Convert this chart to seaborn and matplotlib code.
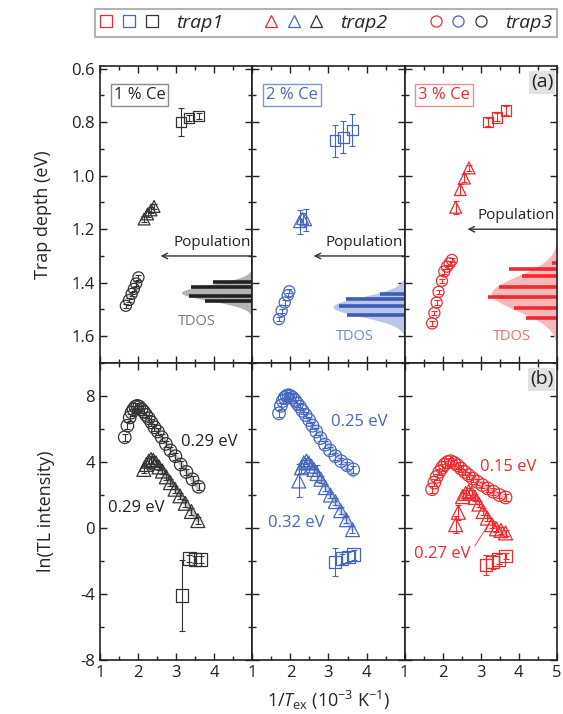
import numpy as np
import matplotlib
matplotlib.use('Agg')
import matplotlib.pyplot as plt
import seaborn as sns
from matplotlib.lines import Line2D
from matplotlib.legend_handler import HandlerTuple
from matplotlib.ticker import MultipleLocator

sns.set_theme(style='ticks')
plt.rcParams['font.family'] = ['Open Sans', 'DejaVu Sans']
plt.rcParams['mathtext.fontset'] = 'custom'
plt.rcParams['mathtext.rm'] = 'Open Sans'
plt.rcParams['mathtext.it'] = 'Open Sans:italic'

# ---- data ----
conc_labels = ['1 % Ce', '2 % Ce', '3 % Ce']
colors = ['#333333', '#4767bd', '#ee2a2e']
box_edge = ['#8a8a8a', '#7f95d2', '#f38c8c']
tdos_fill = ['#b3b3b3', '#b9c6e7', '#f7b8b8']
tdos_text = ['#7a7a7a', '#6f8acd', '#f26a6a']
tdos_bar = ['#222222', '#3d5cb8', '#ee2a2e']

# (a) trap depth vs 1/T
a_t1_x = [[3.13, 3.34, 3.59], [3.17, 3.39, 3.63], [3.19, 3.43, 3.66]]
a_t1_y = [[0.80, 0.784, 0.776], [0.869, 0.857, 0.829], [0.80, 0.782, 0.757]]
a_t1_err = [[0.053, 0.012, 0.012], [0.06, 0.06, 0.06], [0.015, 0.015, 0.018]]

a_t2_x = [[2.16, 2.25, 2.34, 2.42], [2.24, 2.32, 2.40], [2.34, 2.46, 2.57, 2.69]]
a_t2_y = [[1.162, 1.143, 1.128, 1.115], [1.172, 1.16, 1.165], [1.118, 1.052, 1.009, 0.971]]
a_t2_err = [[0.01, 0.01, 0.01, 0.01], [0.045, 0.02, 0.04], [0.025, 0.02, 0.015, 0.012]]

a_t3_x = [[1.68, 1.76, 1.83, 1.89, 1.95, 2.01],
          [1.70, 1.77, 1.85, 1.93, 1.97],
          [1.72, 1.78, 1.84, 1.89, 1.98, 2.04, 2.11, 2.18, 2.24]]
a_t3_y = [[1.486, 1.465, 1.442, 1.423, 1.403, 1.38],
          [1.536, 1.505, 1.474, 1.447, 1.432],
          [1.552, 1.513, 1.474, 1.434, 1.393, 1.358, 1.340, 1.328, 1.315]]
a_t3_err = 0.008

# TDOS gaussians + discrete levels
tdos_center = [1.437, 1.49, 1.44]
tdos_sigma = [0.03, 0.037, 0.065]
tdos_amp = [1.86, 1.88, 1.72]
tdos_bar_y = [[1.396, 1.417, 1.449, 1.470],
              [1.442, 1.461, 1.486, 1.521],
              [1.328, 1.349, 1.374, 1.415, 1.455, 1.495, 1.532]]
tdos_bar_len = [[1.03, 1.61, 1.65, 1.25],
                [0.64, 1.55, 1.72, 1.52],
                [0.12, 1.27, 0.91, 1.53, 1.82, 1.13, 0.81]]
pop_y = [1.30, 1.30, 1.20]
pop_head_x = [2.59, 2.61, 2.65]

# (b) ln(TL intensity) vs 1/T
b_t3_x = [[1.65, 1.72, 1.78, 1.83, 1.88, 1.93, 1.98, 2.03, 2.09, 2.15, 2.21, 2.28,
           2.35, 2.43, 2.52, 2.62, 2.73, 2.85, 2.98, 3.12, 3.27, 3.43, 3.59],
          [1.70, 1.75, 1.80, 1.85, 1.90, 1.95, 2.00, 2.06, 2.12, 2.18, 2.25, 2.32,
           2.40, 2.49, 2.58, 2.68, 2.79, 2.91, 3.04, 3.18, 3.33, 3.49, 3.65],
          [1.72, 1.78, 1.84, 1.91, 1.98, 2.05, 2.13, 2.21, 2.30, 2.39, 2.48, 2.58,
           2.68, 2.79, 2.91, 3.04, 3.18, 3.33, 3.49, 3.65]]
b_t3_y = [[5.5, 6.2, 6.7, 7.0, 7.2, 7.35, 7.4, 7.35, 7.2, 7.05, 6.85, 6.65,
           6.4, 6.1, 5.85, 5.5, 5.1, 4.7, 4.35, 3.85, 3.4, 2.95, 2.5],
          [6.95, 7.4, 7.7, 7.9, 8.0, 8.05, 8.0, 7.9, 7.75, 7.55, 7.35, 7.1,
           6.85, 6.55, 6.2, 5.85, 5.45, 5.05, 4.7, 4.35, 4.05, 3.8, 3.55],
          [2.35, 2.75, 3.1, 3.4, 3.65, 3.85, 4.0, 4.05, 3.95, 3.8, 3.6, 3.4,
           3.2, 3.0, 2.8, 2.6, 2.4, 2.2, 2.0, 1.85]]
b_t3_err = 0.2

b_t2_x = [[2.15, 2.22, 2.28, 2.34, 2.40, 2.47, 2.55, 2.64, 2.74, 2.85, 2.97, 3.10, 3.24, 3.40, 3.57],
          [2.22, 2.29, 2.35, 2.42, 2.48, 2.55, 2.62, 2.70, 2.80, 2.92, 3.05, 3.18, 3.32, 3.47, 3.63],
          [2.34, 2.41, 2.52, 2.60, 2.68, 2.76, 2.85, 2.95, 3.06, 3.17, 3.29, 3.41, 3.53, 3.65]]
b_t2_y = [[3.55, 3.85, 4.05, 4.15, 4.1, 3.95, 3.7, 3.45, 3.1, 2.75, 2.35, 1.95, 1.5, 1.0, 0.45],
          [2.85, 3.65, 3.95, 4.05, 3.95, 3.75, 3.55, 3.3, 2.95, 2.45, 2.0, 1.6, 1.05, 0.5, -0.1],
          [0.2, 0.95, 1.9, 2.1, 2.2, 2.1, 1.85, 1.45, 1.0, 0.6, 0.2, -0.05, -0.15, -0.3]]
b_t2_err = [[0.2, 0.2, 0.2, 0.2, 0.2, 0.2, 0.2, 0.2, 0.2, 0.2, 0.2, 0.2, 0.2, 0.2, 0.2],
            [1.0, 0.3, 0.2, 0.2, 0.2, 0.2, 0.2, 0.5, 0.2, 0.2, 0.2, 0.2, 0.2, 0.2, 0.2],
            [0.5, 0.45, 0.2, 0.2, 0.2, 0.2, 0.2, 0.2, 0.2, 0.2, 0.2, 0.2, 0.2, 0.2]]

b_t1_x = [[3.15, 3.35, 3.50, 3.64], [3.17, 3.36, 3.52, 3.66], [3.14, 3.31, 3.47, 3.65]]
b_t1_y = [[-4.1, -1.85, -1.9, -1.9], [-2.06, -1.86, -1.75, -1.61], [-2.23, -2.06, -1.9, -1.7]]
b_t1_err = [[2.15, 0.2, 0.2, 0.2], [0.87, 0.3, 0.3, 0.3], [0.6, 0.4, 0.3, 0.2]]

b_e_labels = [['0.29 eV', '0.29 eV'], ['0.25 eV', '0.32 eV'], ['0.15 eV', '0.27 eV']]

# ---- figure ----
fig = plt.figure(figsize=(5.63, 7.14), dpi=100)
gs = fig.add_gridspec(2, 3, left=0.1776, right=0.9893, top=0.9076, bottom=0.0756,
                      wspace=0, hspace=0)
axes = np.array([[fig.add_subplot(gs[r, c]) for c in range(3)] for r in range(2)])

ms_a = 7.5
ms_b = 9


def markers(ax, x, y, err, marker, color, size, mlw=0.9):
    ax.errorbar(x, y, yerr=err, fmt='none', ecolor=color, elinewidth=0.8,
                capsize=2.2, capthick=0.8, zorder=3)
    sns.scatterplot(x=x, y=y, ax=ax, marker=marker, s=size ** 2, color=color,
                    facecolors='none', edgecolor=color, linewidth=mlw, zorder=4)


tdos_txt_y = [1.545, 1.60, 1.60]
tdos_txt_x = [3.54, 3.68, 3.82]

for c in range(3):
    col = colors[c]
    ax = axes[0, c]
    # TDOS gaussian + levels
    yy = np.linspace(tdos_center[c] - 4 * tdos_sigma[c], tdos_center[c] + 4 * tdos_sigma[c], 300)
    g = tdos_amp[c] * np.exp(-0.5 * ((yy - tdos_center[c]) / tdos_sigma[c]) ** 2)
    ax.fill_betweenx(yy, 5 - g, 5, color=tdos_fill[c], lw=0, zorder=1)
    ax.hlines(tdos_bar_y[c], 5 - np.array(tdos_bar_len[c]), 5, color=tdos_bar[c], lw=2.6, zorder=2)

    markers(ax, a_t1_x[c], a_t1_y[c], a_t1_err[c], 's', col, ms_a)
    markers(ax, a_t2_x[c], a_t2_y[c], a_t2_err[c], '^', col, ms_a + 1)
    markers(ax, a_t3_x[c], a_t3_y[c], a_t3_err, 'o', col, ms_a + 0.5)

    ax.annotate('', xy=(pop_head_x[c], pop_y[c]), xytext=(5.0, pop_y[c]),
                arrowprops=dict(arrowstyle='->', color='#333333', lw=1.0,
                                shrinkA=0, shrinkB=0, mutation_scale=10))
    ax.text(4.95, pop_y[c] - 0.022, 'Population', ha='right', va='bottom',
            fontsize=11, color='#222222')
    ax.text(tdos_txt_x[c], tdos_txt_y[c], 'TDOS', ha='center', va='center',
            fontsize=10.5, color=tdos_text[c])
    ax.text(0.09, 0.93, conc_labels[c], transform=ax.transAxes, ha='left', va='top',
            fontsize=12, color=col if c else '#222222',
            bbox=dict(facecolor='white', edgecolor=box_edge[c], lw=1.0, pad=2.2))
    ax.set_ylim(1.70, 0.59)
    ax.yaxis.set_major_locator(MultipleLocator(0.2))
    ax.yaxis.set_minor_locator(MultipleLocator(0.1))

    # (b)
    ax = axes[1, c]
    for xs, ys in [(b_t3_x[c], b_t3_y[c]), (b_t2_x[c], b_t2_y[c])]:
        xs = np.array(xs)
        ys = np.array(ys)
        k = int(np.argmax(ys)) + 1
        p = np.polyfit(xs[k:], ys[k:], 1)
        xf = np.array([xs[k], xs[-1]])
        sns.lineplot(x=xf, y=np.polyval(p, xf), ax=ax, color=col, lw=3, alpha=0.3, zorder=2)
    markers(ax, b_t3_x[c], b_t3_y[c], b_t3_err, 'o', col, ms_b)
    markers(ax, b_t2_x[c], b_t2_y[c], b_t2_err[c], '^', col, ms_b + 1)
    markers(ax, b_t1_x[c], b_t1_y[c], b_t1_err[c], 's', col, ms_b)
    ax.set_ylim(-8, 10)
    ax.yaxis.set_major_locator(MultipleLocator(4))
    ax.yaxis.set_minor_locator(MultipleLocator(2))

# energy labels in (b)
e_pos = [[(3.14, 5.2), (1.21, 1.2)], [(3.06, 6.4), (1.42, 0.3)], [(2.98, 3.7), (1.24, -1.6)]]
for c in range(3):
    for (xt, yt), lab in zip(e_pos[c], b_e_labels[c]):
        axes[1, c].text(xt, yt, lab, ha='left', va='center', fontsize=12,
                        color=colors[c] if c else '#222222')
axes[1, 2].plot([2.84, 3.25], [-1.1, 0.4], color=colors[2], lw=0.6)

for r in range(2):
    for c in range(3):
        ax = axes[r, c]
        ax.set_xlim(1, 5)
        ax.xaxis.set_major_locator(MultipleLocator(1))
        ax.xaxis.set_minor_locator(MultipleLocator(0.5))
        ax.tick_params(which='both', direction='in', top=True, right=True,
                       colors='#222222', labelsize=12, width=1.0)
        ax.tick_params(which='major', length=5)
        ax.tick_params(which='minor', length=3)
        for s in ax.spines.values():
            s.set_linewidth(1.2)
            s.set_color('#222222')
        if r == 0:
            ax.set_xticklabels([])
        else:
            ax.set_xticks([1, 2, 3, 4, 5])
            ax.set_xticklabels(['1', '2', '3', '4', '5' if c == 2 else ''])
        if c > 0:
            ax.set_yticklabels([])
        ax.set_xlabel('')
        ax.set_ylabel('')

axes[0, 0].set_yticks([0.6, 0.8, 1.0, 1.2, 1.4, 1.6])
axes[0, 0].set_yticklabels(['0.6', '0.8', '1.0', '1.2', '1.4', '1.6'])
axes[1, 0].set_yticks([-8, -4, 0, 4, 8])
axes[1, 0].set_yticklabels(['-8', '-4', '0', '4', '8'])
axes[0, 0].set_ylabel('Trap depth (eV)', fontsize=13, labelpad=14)
axes[1, 0].set_ylabel('ln(TL intensity)', fontsize=13, labelpad=18)
axes[1, 1].set_xlabel(r'1/$T_{\mathrm{ex}}$ (10$^{-3}$ K$^{-1}$)', fontsize=13, labelpad=6)

for ax, lab in [(axes[0, 2], '(a)'), (axes[1, 2], '(b)')]:
    ax.text(0.975, 0.975, lab, transform=ax.transAxes, ha='right', va='top', fontsize=14,
            color='#222222', bbox=dict(facecolor='#e2e2e2', edgecolor='none', pad=1.5))

# legend
def mk(m, c):
    return Line2D([], [], marker=m, ls='none', mfc='none', mec=c, mew=0.9, ms=8)

order = [colors[2], colors[1], colors[0]]
handles = [tuple(mk(m, c) for c in order) for m in ['s', '^', 'o']]
fig.legend(handles, ['trap1', 'trap2', 'trap3'], handler_map={tuple: HandlerTuple(ndivide=None, pad=0.5)},
           ncol=3, loc='lower left', bbox_to_anchor=(0.1687, 0.9482, 0.8206, 0.042), mode='expand',
           frameon=True, fancybox=False, edgecolor='#a0a0a0', handlelength=3.0, handletextpad=0.9,
           borderaxespad=0, borderpad=0.25, prop={'style': 'italic', 'size': 14})
fig.legends[0].get_frame().set_linewidth(1.5)

fig.savefig('out.png', dpi=100)
